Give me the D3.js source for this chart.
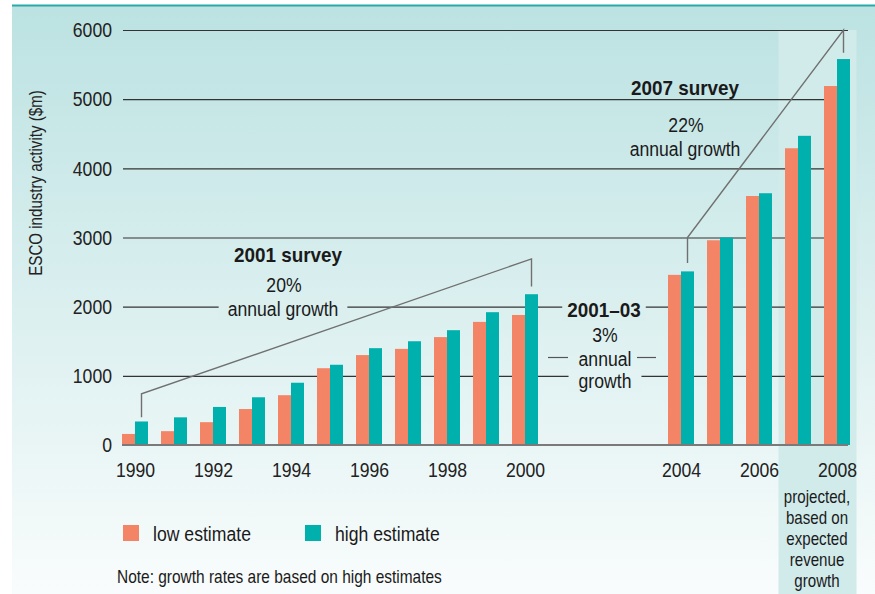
<!DOCTYPE html>
<html>
<head>
<meta charset="utf-8">
<script src="https://cdn.jsdelivr.net/npm/d3@7"></script>
<style>
  body { margin: 0; background: #fff; }
  svg { display: block; font-family: 'Liberation Sans', Arial, sans-serif; }
</style>
</head>
<body>
<script>
// data ($m)
const years = [1990, 1991, 1992, 1993, 1994, 1995, 1996, 1997, 1998, 1999, 2000, 2004, 2005, 2006, 2007, 2008]
const lowEstimate = [160, 200, 330, 520, 720, 1110, 1300, 1390, 1560, 1780, 1880, 2460, 2960, 3600, 4290, 5190]
const highEstimate = [340, 400, 550, 690, 900, 1160, 1400, 1500, 1660, 1920, 2180, 2510, 3000, 3640, 4470, 5580]
const yTicks = [0, 1000, 2000, 3000, 4000, 5000, 6000]
const xTicks = [1990, 1992, 1994, 1996, 1998, 2000, 2004, 2006, 2008]
const seriesNames = ['low estimate', 'high estimate']
const projectedNote = ['projected,', 'based on', 'expected', 'revenue', 'growth']

const W = 875
const H = 594
const COLORS = { low: '#f38466', high: '#00b0ad' }
const BG_TOP = '#bce2e2'
const BG_BOTTOM = '#f9fcfc'
const BAR_W = 13
const SQUEEZE = 0.84 // fake a condensed face

const x = d3.scaleLinear().domain([1990, 2008]).range([135, 837])
const y = d3.scaleLinear().domain([0, 6000]).range([445, 30])
const GRID_LEFT = 123
const GRID_RIGHT = 848

const bgAt = py => d3.interpolateRgb(BG_TOP, BG_BOTTOM)(Math.max(0, (py - 5) / (H - 5)))

// move x/y into a transform so the glyphs can be squeezed horizontally
function condense(sel, s = SQUEEZE) {
  sel.each(function() {
    const t = d3.select(this)
    const tx = +t.attr('x') || 0
    const ty = +t.attr('y') || 0
    t.attr('x', null).attr('y', null)
      .attr('transform', `translate(${tx},${ty}) scale(${s},1)`)
  })
  return sel
}

const svg = d3.select('body').append('svg')
  .attr('width', W)
  .attr('height', H)

const defs = svg.append('defs')
const grad = defs.append('linearGradient')
  .attr('id', 'bg')
  .attr('x1', 0).attr('y1', 0).attr('x2', 0).attr('y2', 1)
grad.append('stop').attr('offset', 0).attr('stop-color', BG_TOP)
grad.append('stop').attr('offset', 1).attr('stop-color', BG_BOTTOM)

// background + top rule
svg.append('rect')
  .attr('x', 12).attr('y', 5)
  .attr('width', W - 12).attr('height', H - 5)
  .attr('fill', 'url(#bg)')
svg.append('line')
  .attr('x1', 12).attr('x2', W)
  .attr('y1', 5.5).attr('y2', 5.5)
  .attr('stroke', '#2aa9a9')
  .attr('stroke-width', 2)

// projected band (2007-2008)
svg.append('rect')
  .attr('x', x(2006.5))
  .attr('y', y(6000))
  .attr('width', x(2008.5) - x(2006.5))
  .attr('height', H - y(6000))
  .attr('fill', '#d1eaea')

// y axis with gridlines
const yAxis = d3.axisLeft(y)
  .tickValues(yTicks.filter(d => d > 0))
  .tickSize(-(GRID_RIGHT - GRID_LEFT))
  .tickPadding(11)
  .tickFormat(d3.format('d'))
const gy = svg.append('g')
  .attr('transform', `translate(${GRID_LEFT},0)`)
  .call(yAxis)
gy.select('.domain').remove()
gy.selectAll('.tick line').attr('stroke', '#333').attr('stroke-width', 1.2)
condense(gy.selectAll('.tick text')
  .attr('font-size', 21)
  .attr('fill', '#222')
  .attr('font-family', null))

// zero label
condense(svg.append('text')
  .attr('x', GRID_LEFT - 11)
  .attr('y', y(0))
  .attr('dy', '0.32em')
  .attr('text-anchor', 'end')
  .attr('font-size', 21)
  .attr('fill', '#222')
  .text(yTicks[0]))

// x axis labels
const xAxis = d3.axisBottom(x)
  .tickValues(xTicks)
  .tickSize(0)
  .tickPadding(17)
  .tickFormat(d3.format('d'))
const gx = svg.append('g')
  .attr('transform', `translate(0,${y(0)})`)
  .call(xAxis)
gx.select('.domain').remove()
condense(gx.selectAll('.tick text')
  .attr('font-size', 21)
  .attr('fill', '#222')
  .attr('font-family', null))

// y title
svg.append('text')
  .attr('transform', `translate(42,183) rotate(-90) scale(${SQUEEZE},1)`)
  .attr('text-anchor', 'middle')
  .attr('font-size', 18)
  .attr('fill', '#222')
  .text('ESCO industry activity ($m)')

const knockLayer = svg.append('g')

// bars
const rows = years.map((yr, i) => ({ yr, low: lowEstimate[i], high: highEstimate[i] }))
const bars = svg.append('g')
bars.selectAll('rect.low')
  .data(rows)
  .enter().append('rect')
  .attr('class', 'low')
  .attr('x', d => x(d.yr) - BAR_W)
  .attr('y', d => y(d.low))
  .attr('width', BAR_W)
  .attr('height', d => y(0) - y(d.low))
  .attr('fill', COLORS.low)
bars.selectAll('rect.high')
  .data(rows)
  .enter().append('rect')
  .attr('class', 'high')
  .attr('x', d => x(d.yr))
  .attr('y', d => y(d.high))
  .attr('width', BAR_W)
  .attr('height', d => y(0) - y(d.high))
  .attr('fill', COLORS.high)

svg.append('line')
  .attr('x1', GRID_LEFT - 1).attr('x2', GRID_RIGHT)
  .attr('y1', y(0)).attr('y2', y(0))
  .attr('stroke', '#7a7a7a')
  .attr('stroke-width', 2)

// survey brackets: [year, value] points
const survey2001 = [[1990, 400], [1990, 740], [2000, 2690], [2000, 2290]]
const survey2007 = [[2004, 2630], [2004, 3000], [2008, 6000], [2008, 5670]]
const bracket = d3.line()
  .x(d => x(d[0]) + BAR_W / 2)
  .y(d => y(d[1]))
svg.selectAll('path.bracket')
  .data([survey2001, survey2007])
  .enter().append('path')
  .attr('class', 'bracket')
  .attr('d', bracket)
  .attr('fill', 'none')
  .attr('stroke', '#707070')
  .attr('stroke-width', 1.4)

// text helper, optionally knocking out gridlines behind it
function label(tx, ty, str, opts = {}) {
  const s = opts.bold ? 0.9 : SQUEEZE
  const t = svg.append('text')
    .attr('transform', `translate(${tx},${ty}) scale(${s},1)`)
    .attr('text-anchor', opts.anchor || 'middle')
    .attr('font-size', opts.size || 21)
    .attr('font-weight', opts.bold ? 'bold' : null)
    .attr('fill', '#1a1a1a')
    .text(str)
  if (opts.knock) {
    const b = t.node().getBBox()
    knockLayer.append('rect')
      .attr('x', tx + b.x * s - opts.knock)
      .attr('y', ty + b.y)
      .attr('width', b.width * s + 2 * opts.knock)
      .attr('height', b.height)
      .attr('fill', bgAt(ty + b.y + b.height / 2))
  }
  return t
}

label(288, 262, '2001 survey', { bold: true })
label(284, 292, '20%')
label(283, 316, 'annual growth', { knock: 9 })

label(604, 317, '2001–03', { bold: true, knock: 5 })
label(605, 342, '3%')
label(605, 366, 'annual')
label(605, 388, 'growth', { knock: 10 })
svg.selectAll('line.dash')
  .data([[548, 568], [637, 656]])
  .enter().append('line')
  .attr('class', 'dash')
  .attr('x1', d => d[0]).attr('x2', d => d[1])
  .attr('y1', 357.5).attr('y2', 357.5)
  .attr('stroke', '#555')
  .attr('stroke-width', 1.2)

label(685, 95, '2007 survey', { bold: true })
label(686, 132, '22%')
label(685, 156, 'annual growth')

// projected note
projectedNote.forEach((s, i) => label(817, 503 + i * 21, s, { size: 18 }))

// legend
const legend = svg.append('g')
seriesNames.forEach((name, i) => {
  const lx = [123, 305][i]
  legend.append('rect')
    .attr('x', lx).attr('y', 525)
    .attr('width', 16).attr('height', 16)
    .attr('fill', i === 0 ? COLORS.low : COLORS.high)
  condense(legend.append('text')
    .attr('x', lx + 30).attr('y', 541)
    .attr('font-size', 21)
    .attr('fill', '#1a1a1a')
    .text(name))
})

condense(svg.append('text')
  .attr('x', 117).attr('y', 583)
  .attr('font-size', 18)
  .attr('fill', '#1a1a1a')
  .text('Note: growth rates are based on high estimates'), 0.86)
</script>
</body>
</html>
